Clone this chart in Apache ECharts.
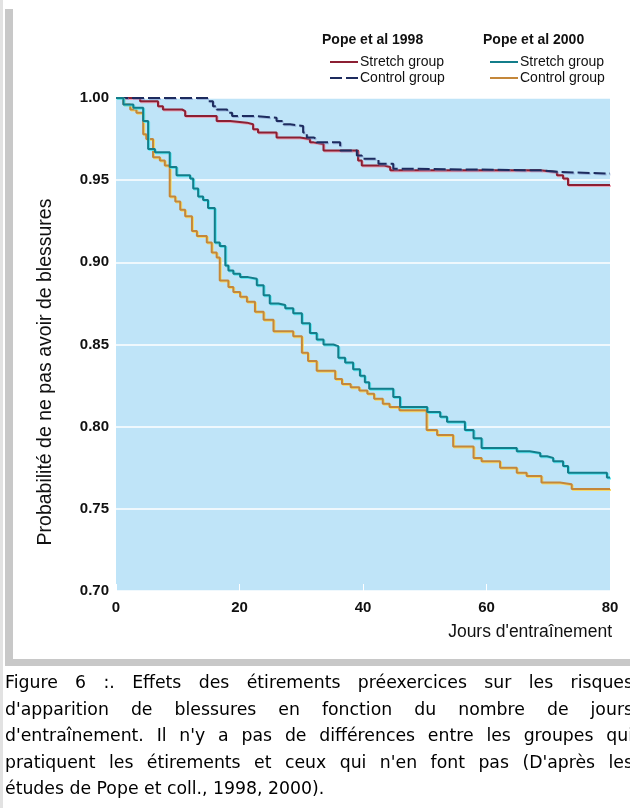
<!DOCTYPE html>
<html>
<head>
<meta charset="utf-8">
<script src="https://cdn.jsdelivr.net/npm/echarts@6/dist/echarts.min.js"></script>
<style>
  html, body { margin: 0; padding: 0; background: #fff; overflow: hidden; }
  #wrap { position: relative; width: 630px; height: 808px; overflow: hidden; }
  #chart { position: absolute; left: 0; top: 0; width: 630px; height: 808px; }
  .bar-left { position: absolute; left: 5px; top: 9px; width: 8px; height: 652px; background: #c8c8c8; }
  .bar-bottom { position: absolute; left: 5px; top: 659px; width: 625px; height: 7px; background: #c8c8c8; }
  .outer-left { position: absolute; left: 0; top: 0; width: 3px; height: 808px; background: #e2e2e2; }
  #caption {
    position: absolute; left: 5px; top: 669px; width: 628px;
    font-family: "DejaVu Sans", sans-serif; font-size: 17.3px; line-height: 26.6px; color: #000;
  }
  #caption div { white-space: nowrap; text-align: justify; text-align-last: justify; }
  #caption div.last { text-align: left; text-align-last: left; }
</style>
</head>
<body>
<div id="wrap">
  <div class="outer-left"></div>
  <div class="bar-left"></div>
  <div class="bar-bottom"></div>
  <div id="chart"></div>
  <div id="caption">
    <div>Figure 6 :. Effets des étirements préexercices sur les risques</div>
    <div>d'apparition de blessures en fonction du nombre de jours</div>
    <div>d'entraînement. Il n'y a pas de différences entre les groupes qui</div>
    <div>pratiquent les étirements et ceux qui n'en font pas (D'après les</div>
    <div class="last">études de Pope et coll., 1998, 2000).</div>
  </div>
</div>
<script>
// jours d'entraînement / probabilité
var stretch1998 = [
  [0, 1.0], [3.9, 0.998], [6.8, 0.995], [7.6, 0.993], [10.7, 0.992], [11.2, 0.989],
  [16.3, 0.986], [18.5, 0.985], [21.2, 0.984], [22.2, 0.981], [23.0, 0.979], [26.0, 0.976],
  [29.8, 0.975], [31.4, 0.973], [32.0, 0.972], [33.6, 0.968], [39.2, 0.962], [39.8, 0.959],
  [43.3, 0.958], [44.4, 0.956], [68.7, 0.955], [71.4, 0.953], [72.4, 0.951], [73.2, 0.947],
  [80, 0.947]
]
var control1998 = [
  [0, 1.0], [14.9, 0.998], [15.7, 0.995], [16.3, 0.993], [18.0, 0.991], [18.8, 0.989],
  [22.8, 0.988], [26.0, 0.986], [27.1, 0.984], [28.2, 0.983], [30.3, 0.979], [30.9, 0.976],
  [32.0, 0.975], [32.5, 0.973], [36.3, 0.968], [39.0, 0.965], [39.8, 0.963], [42.5, 0.960],
  [44.9, 0.957], [46.0, 0.956], [68.7, 0.955], [71.9, 0.954], [80, 0.954]
]
var stretch2000 = [
  [0, 1.0], [1.2, 0.996], [2.8, 0.994], [4.4, 0.986], [5.2, 0.969], [6.3, 0.967],
  [8.7, 0.958], [9.8, 0.953], [12.0, 0.951], [12.5, 0.945], [13.3, 0.940], [14.1, 0.938],
  [14.9, 0.933], [16.0, 0.912], [16.8, 0.910], [17.7, 0.898], [18.2, 0.895], [19.0, 0.893],
  [20.1, 0.891], [21.4, 0.890], [22.8, 0.886], [23.9, 0.880], [24.9, 0.875], [26.3, 0.874],
  [27.4, 0.872], [28.7, 0.869], [30.1, 0.863], [31.4, 0.857], [32.5, 0.853], [33.6, 0.850],
  [35.2, 0.849], [36.0, 0.842], [37.1, 0.839], [38.4, 0.835], [39.5, 0.831], [40.3, 0.827],
  [41.0, 0.823], [44.9, 0.818], [46.0, 0.812], [50.4, 0.809], [52.5, 0.806], [53.6, 0.803],
  [56.5, 0.798], [57.9, 0.793], [59.2, 0.787], [64.9, 0.785], [67.0, 0.784], [68.7, 0.782],
  [69.8, 0.781], [70.8, 0.779], [72.4, 0.776], [73.2, 0.772], [79.5, 0.769], [80, 0.769]
]
var control2000 = [
  [0, 1.0], [1.2, 0.996], [2.3, 0.993], [3.3, 0.991], [4.4, 0.978], [4.9, 0.975],
  [6.0, 0.964], [7.1, 0.962], [7.9, 0.959], [8.7, 0.940], [9.6, 0.937], [10.4, 0.932],
  [11.2, 0.928], [12.3, 0.919], [13.1, 0.916], [14.7, 0.912], [15.5, 0.906], [16.3, 0.903],
  [16.8, 0.889], [18.2, 0.885], [19.0, 0.882], [20.1, 0.879], [21.2, 0.876], [22.5, 0.870],
  [23.9, 0.865], [25.5, 0.858], [28.7, 0.855], [30.1, 0.845], [31.1, 0.840], [32.5, 0.834],
  [35.5, 0.829], [36.6, 0.826], [38.0, 0.824], [39.4, 0.822], [40.7, 0.820], [41.8, 0.817],
  [43.2, 0.814], [44.3, 0.812], [45.9, 0.810], [50.3, 0.798], [52.0, 0.795], [54.6, 0.788],
  [57.9, 0.781], [59.2, 0.779], [62.2, 0.775], [64.9, 0.772], [66.5, 0.770], [68.9, 0.766],
  [71.9, 0.765], [73.8, 0.762], [80, 0.762]
]
var xTicks = [0, 20, 40, 60, 80]
var yTicks = [0.70, 0.75, 0.80, 0.85, 0.90, 0.95, 1.00]

var font = '"Liberation Sans", Arial, sans-serif'
var chart = echarts.init(document.getElementById('chart'), null, { renderer: 'canvas' })

function kmSeries(name, data, color, halo, dash) {
  return {
    name: name,
    type: 'line',
    step: 'end',
    symbol: 'none',
    animation: false,
    data: data,
    itemStyle: { color: color },
    lineStyle: {
      color: color,
      width: 2,
      type: dash || 'solid',
      shadowColor: halo,
      shadowBlur: 0,
      shadowOffsetX: 1,
      shadowOffsetY: 1
    }
  }
}

// légende : seulement le trait, sans le rond du symbole
function legendBlock(left, names) {
  return {
    left: left, top: 50, orient: 'vertical', itemWidth: 28, itemHeight: 12, itemGap: 2,
    data: names,
    formatter: function (n) { return n.replace(/ \d{4}$/, '') },
    itemStyle: { opacity: 0 },
    textStyle: { fontFamily: font, fontSize: 14, color: '#111', padding: [0, 0, 0, -3] },
    selectedMode: false
  }
}

chart.setOption({
  backgroundColor: 'transparent',
  textStyle: { fontFamily: font },
  grid: {
    left: 116, right: 20, top: 98, bottom: 217,
    show: true, backgroundColor: '#bfe4f8', borderWidth: 0
  },
  xAxis: {
    type: 'value',
    min: xTicks[0], max: xTicks[xTicks.length - 1], interval: 20,
    axisLine: { show: false },
    axisTick: { show: true, inside: true, length: 7, lineStyle: { color: '#ffffff', width: 1 } },
    splitLine: { show: false },
    axisLabel: { fontFamily: font, fontSize: 15, fontWeight: 'bold', color: '#111', margin: 9 }
  },
  yAxis: {
    type: 'value',
    min: yTicks[0], max: yTicks[yTicks.length - 1], interval: 0.05,
    axisLine: { show: false },
    axisTick: { show: false },
    splitLine: { show: true, lineStyle: { color: '#ffffff', width: 1.5 } },
    axisLabel: {
      fontFamily: font, fontSize: 15, fontWeight: 'bold', color: '#111', margin: 7,
      formatter: function (v) { return v.toFixed(2) }
    }
  },
  legend: [
    legendBlock(324, ['Stretch group 1998', 'Control group 1998']),
    legendBlock(484, ['Stretch group 2000', 'Control group 2000'])
  ],
  graphic: [
    { type: 'text', left: 322, top: 33, style: { text: 'Pope et al 1998', font: 'bold 14px ' + font, fill: '#111' } },
    { type: 'text', left: 483, top: 33, style: { text: 'Pope et al 2000', font: 'bold 14px ' + font, fill: '#111' } },
    {
      type: 'text', x: 46, y: 372, rotation: Math.PI / 2,
      style: { text: 'Probabilité de ne pas avoir de blessures', font: '19.5px ' + font, fill: '#111', align: 'center', verticalAlign: 'middle' }
    },
    {
      type: 'text', x: 612, y: 632,
      style: { text: "Jours d'entraînement", font: '17.5px ' + font, fill: '#111', align: 'right', verticalAlign: 'middle' }
    }
  ],
  series: [
    kmSeries('Stretch group 1998', stretch1998, '#8c1f33', 'rgba(240,150,170,0.8)'),
    kmSeries('Control group 1998', control1998, '#1d2b5e', 'rgba(120,140,200,0.5)', [12, 4]),
    kmSeries('Control group 2000', control2000, '#c4873a', 'rgba(250,215,90,0.9)'),
    kmSeries('Stretch group 2000', stretch2000, '#137d8a', 'rgba(80,230,240,0.9)')
  ]
})
</script>
</body>
</html>
